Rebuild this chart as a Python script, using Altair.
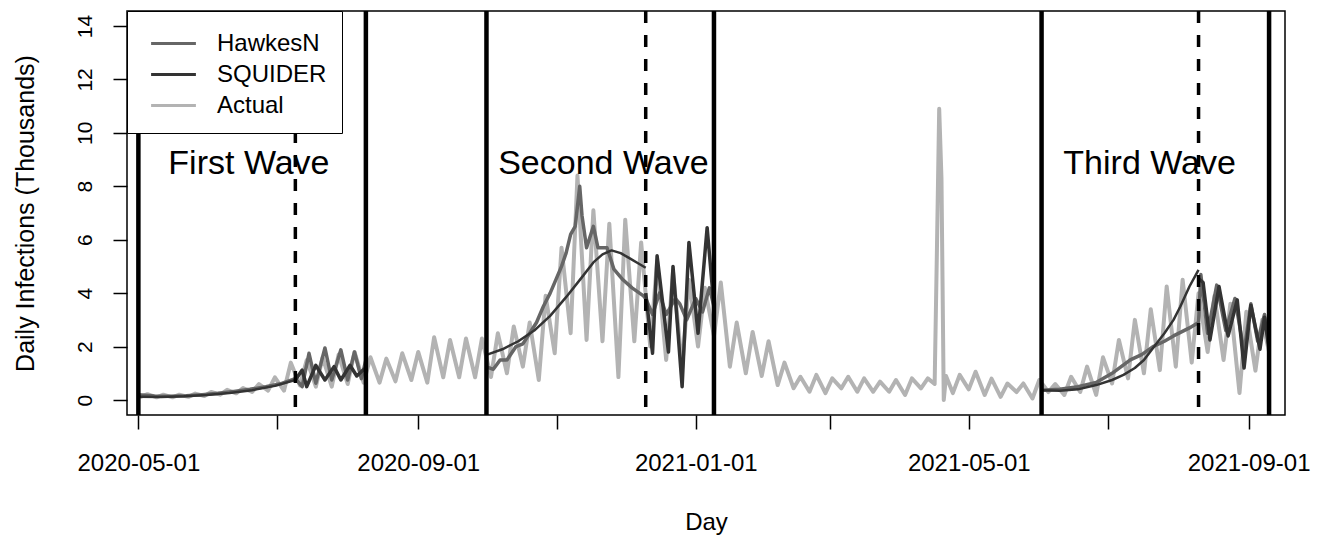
import altair as alt
import pandas as pd

# x = days since 2020-05-01
actual_day = [0, 1, 4, 8, 11, 15, 18, 22, 25, 29, 32, 36, 39, 43, 46, 50, 53, 57, 60, 64, 67,
              71, 74, 78, 81, 85, 88, 92, 95, 99, 102, 106, 109, 113, 116, 120, 123, 127, 130,
              134, 137, 141, 144, 148, 151, 155, 158, 162, 165, 169, 172, 176, 179, 183, 186,
              190, 193, 197, 200, 204, 207, 211, 214, 218, 221, 225, 228, 232, 235, 239, 242,
              246, 249, 253, 256, 260, 263, 267, 270, 274, 277, 281, 284, 288, 291, 295, 298,
              302, 305, 309, 312, 316, 319, 323, 326, 330, 333, 337, 340, 344, 347, 350, 351,
              352, 353, 354, 355, 358, 361, 365, 368, 372, 375, 379, 382, 386, 389, 393, 396,
              400, 403, 407, 410, 414, 417, 421, 424, 428, 431, 435, 438, 442, 445, 449, 452,
              456, 459, 463, 466, 470, 473, 477, 480, 484, 487, 491, 494, 497]
actual_val = [0.2, 0.12, 0.22, 0.1, 0.2, 0.1, 0.2, 0.12, 0.24, 0.15, 0.3, 0.2, 0.38, 0.25, 0.45,
              0.3, 0.6, 0.35, 0.85, 0.35, 1.4, 0.55, 1.5, 0.5, 1.6, 0.5, 1.7, 0.6, 1.8, 0.65, 1.6,
              0.65, 1.55, 0.7, 1.75, 0.75, 1.8, 0.65, 2.35, 0.85, 2.25, 0.85, 2.3, 0.85, 2.3, 0.86,
              2.5, 1.0, 2.75, 1.25, 2.9, 0.75, 3.9, 1.75, 5.7, 2.5, 8.4, 2.25, 7.1, 2.2, 6.6, 0.86,
              6.75, 2.2, 5.9, 2.0, 5.2, 1.5, 4.8, 1.2, 4.5, 2.0, 4.2, 2.4, 4.4, 1.25, 2.9, 1.0,
              2.55, 0.9, 2.2, 0.56, 1.4, 0.44, 0.87, 0.31, 0.94, 0.26, 0.81, 0.44, 0.87, 0.31,
              0.81, 0.31, 0.69, 0.31, 0.75, 0.19, 0.81, 0.44, 0.81, 0.6, 5.6, 10.9, 8.3, 0.0, 0.9,
              0.26, 0.94, 0.4, 1.06, 0.19, 0.8, 0.12, 0.62, 0.3, 0.62, 0.06, 0.75, 0.3, 0.6, 0.19,
              0.87, 0.3, 1.25, 0.19, 1.6, 0.62, 2.25, 0.81, 3.0, 1.0, 3.4, 1.12, 4.25, 1.25, 4.5,
              1.4, 4.0, 1.8, 3.9, 1.5, 3.6, 0.26, 3.3, 1.1, 3.0, 1.8]

hawkes_w1_day = [0, 7, 14, 21, 28, 35, 42, 49, 56, 63, 69, 72, 75, 78, 82, 85, 89, 92, 95, 98, 100]
hawkes_w1_val = [0.2, 0.15, 0.14, 0.16, 0.2, 0.25, 0.32, 0.4, 0.5, 0.62, 0.8, 0.5, 1.75, 0.63,
                 1.95, 0.75, 1.88, 0.75, 1.8, 0.8, 1.5]
hawkes_w2_day = [153, 156, 159, 162, 166, 169, 172, 175, 178, 181, 184, 186, 188, 190, 192, 194,
                 195, 197, 200, 202, 206, 209, 213, 217, 222, 223, 226, 229, 232, 236, 238, 241,
                 245, 248, 251, 253]
hawkes_w2_val = [1.24, 1.15, 1.5, 1.5, 2.0, 2.1, 2.5, 2.9, 3.5, 4.0, 4.6, 5.0, 5.5, 6.2, 6.5, 8.0,
                 6.9, 5.7, 6.5, 5.7, 5.7, 4.9, 4.5, 4.2, 3.9, 3.8, 3.2, 4.0, 3.2, 3.8, 3.6, 3.0,
                 3.8, 3.3, 4.2, 3.5]
hawkes_w3_day = [397, 405, 413, 421, 428, 436, 441, 446, 451, 455, 462, 466, 467, 470, 474, 478,
                 482, 486, 489, 492, 495, 497]
hawkes_w3_val = [0.37, 0.4, 0.5, 0.66, 1.0, 1.5, 1.7, 2.0, 2.2, 2.4, 2.7, 2.9, 4.7, 2.5, 4.3, 2.6,
                 3.8, 1.8, 3.6, 2.2, 3.2, 2.0]

squider_w1_fit_day = [0, 10, 20, 30, 40, 50, 60, 69]
squider_w1_fit_val = [0.12, 0.11, 0.14, 0.19, 0.26, 0.37, 0.53, 0.75]
squider_w1_fc_day = [69, 72, 74, 78, 82, 86, 89, 93, 96, 98, 100]
squider_w1_fc_val = [0.75, 1.12, 0.5, 1.3, 0.75, 1.25, 0.75, 1.3, 0.9, 1.06, 1.2]
squider_w2_fit_day = [153, 160, 167, 174, 181, 188, 195, 200, 204, 208, 212, 216, 220, 223]
squider_w2_fit_val = [1.69, 1.9, 2.2, 2.6, 3.15, 3.85, 4.6, 5.15, 5.45, 5.6, 5.5, 5.3, 5.1, 4.95]
squider_w2_fc_day = [223, 226, 228, 233, 235, 239, 242, 246, 250, 253]
squider_w2_fc_val = [4.0, 1.75, 5.4, 1.8, 5.0, 0.5, 5.9, 2.5, 6.45, 3.5]
squider_w3_fit_day = [397, 405, 413, 421, 428, 433, 438, 442, 446, 451, 455, 458, 462, 466]
squider_w3_fit_val = [0.37, 0.35, 0.4, 0.56, 0.75, 0.94, 1.2, 1.5, 1.95, 2.5, 3.0, 3.5, 4.25, 4.87]
squider_w3_fc_day = [466, 468, 471, 475, 479, 483, 486, 489, 493, 495, 497]
squider_w3_fc_val = [4.55, 4.4, 2.25, 4.25, 2.4, 3.75, 1.2, 3.55, 1.9, 3.1, 1.9]

solid_days = [0, 100, 153, 253, 397, 497]
dashed_days = [69, 223, 466]

wave_labels = ["First Wave", "Second Wave", "Third Wave"]
wave_label_day = [48.6, 204.4, 444.5]
wave_label_val = [8.47, 8.47, 8.47]

tick_days = [0, 61, 123, 184, 245, 304, 365, 426, 488]
tick_text = ["2020-05-01", "", "2020-09-01", "", "2021-01-01", "", "2021-05-01", "", "2021-09-01"]

series_names = ["HawkesN", "SQUIDER", "Actual"]
series_colors = ["#666666", "#333333", "#b3b3b3"]


def frame(series, segs):
    rows = []
    for seg, (days, vals) in enumerate(segs):
        for d, v in zip(days, vals):
            rows.append({"day": d, "value": v, "series": series, "seg": f"{series}{seg}"})
    return pd.DataFrame(rows)


df_actual = frame("Actual", [(actual_day, actual_val)])
df_hawkes = frame("HawkesN", [(hawkes_w1_day, hawkes_w1_val), (hawkes_w2_day, hawkes_w2_val),
                              (hawkes_w3_day, hawkes_w3_val)])
df_squider_fit = frame("SQUIDER", [(squider_w1_fit_day, squider_w1_fit_val),
                                   (squider_w2_fit_day, squider_w2_fit_val),
                                   (squider_w3_fit_day, squider_w3_fit_val)])
df_squider_fc = frame("SQUIDER", [(squider_w1_fc_day, squider_w1_fc_val),
                                  (squider_w2_fc_day, squider_w2_fc_val),
                                  (squider_w3_fc_day, squider_w3_fc_val)])

FONT = "Liberation Sans"
W, H = 1158, 404

label_expr = "".join(
    f"datum.value == {d} ? '{t}' : " for d, t in zip(tick_days, tick_text)
) + "''"

x_axis = alt.Axis(values=tick_days, labelExpr=label_expr, tickSize=14, tickWidth=1.5,
                  tickColor="black", labelFontSize=24, labelFont=FONT, labelColor="black",
                  labelPadding=22, domain=False, grid=False, title="Day", titleFont=FONT,
                  titleFontSize=24, titleFontWeight="normal", titleColor="black",
                  titleY=107, titleBaseline="middle", labelOverlap=False)
y_axis = alt.Axis(values=[0, 2, 4, 6, 8, 10, 12, 14], tickSize=14, tickWidth=1.5,
                  tickColor="black", labelFontSize=21, labelFont=FONT, labelColor="black",
                  labelAngle=270, labelAlign="center", labelBaseline="bottom", labelPadding=18,
                  domain=False, grid=False, title="Daily Infections (Thousands)",
                  titleFont=FONT, titleFontSize=25, titleFontWeight="normal",
                  titleColor="black", titleX=-102, titleY=H / 2, titleAngle=270,
                  titleAlign="center", titleBaseline="middle", labelOverlap=False)

x_scale = alt.Scale(domain=[-5, 504], nice=False, zero=False)
y_scale = alt.Scale(domain=[-0.56, 14.56], nice=False, zero=False)

X = alt.X("day:Q", scale=x_scale, axis=x_axis)
Y = alt.Y("value:Q", scale=y_scale, axis=y_axis)
color = alt.Color("series:N", scale=alt.Scale(domain=series_names, range=series_colors),
                  legend=alt.Legend(title=None))


def line_layer(df, width):
    return alt.Chart(df).mark_line(strokeWidth=width, strokeJoin="round", clip=True).encode(
        x=X, y=Y, color=color, detail="seg:N", order="day:Q")


actual_layer = line_layer(df_actual, 4)
hawkes_layer = line_layer(df_hawkes, 3.5)
squider_fit_layer = line_layer(df_squider_fit, 2.5)
squider_fc_layer = line_layer(df_squider_fc, 3.5)

solid = alt.Chart(pd.DataFrame({"day": solid_days})).mark_rule(
    color="black", strokeWidth=4.5).encode(x=X)
dashed = alt.Chart(pd.DataFrame({"day": dashed_days})).mark_rule(
    color="black", strokeWidth=3.5, strokeDash=[12, 12]).encode(x=X)

texts = alt.Chart(pd.DataFrame({"label": wave_labels, "day": wave_label_day,
                                "value": wave_label_val})).mark_text(
    font=FONT, fontSize=34, color="black", baseline="alphabetic", align="center").encode(
    x=X, y=Y, text="label:N")

chart = alt.layer(actual_layer, hawkes_layer, squider_fit_layer, squider_fc_layer,
                  solid, dashed, texts).properties(
    width=W, height=H,
    padding={"left": 127, "top": 11, "right": 43, "bottom": 127},
    autosize=alt.AutoSizeParams(type="none"),
    background="white",
).configure_view(stroke="black", strokeWidth=1.5).configure_legend(
    orient="top-left", offset=0, padding=15, strokeColor="black", fillColor="white",
    labelFontSize=24, labelFont=FONT, labelColor="black", symbolType="M-1.4,0H1.4",
    symbolSize=1024, symbolStrokeWidth=3, labelOffset=26, symbolOffset=14, rowPadding=1,
    cornerRadius=0, labelLimit=0)

chart.save("out.html", embed_options={"renderer": "svg", "actions": False})
